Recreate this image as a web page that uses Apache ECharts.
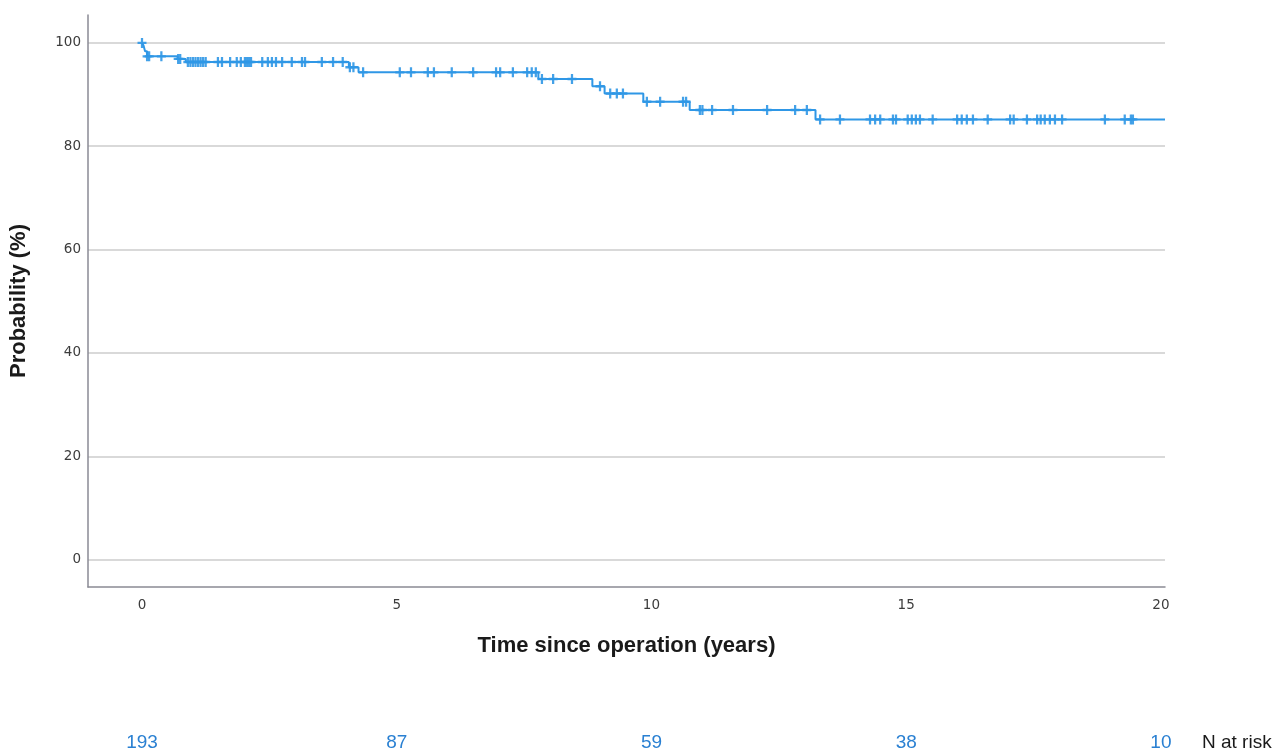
<!DOCTYPE html>
<html>
<head>
<meta charset="utf-8">
<title>Survival after operation</title>
<script src="https://cdn.jsdelivr.net/npm/echarts@6/dist/echarts.min.js"></script>
<style>
  html, body { margin: 0; padding: 0; background: #ffffff; }
  #chart { width: 1287px; height: 753px; }
</style>
</head>
<body>
<div id="chart"></div>
<script>
// Kaplan–Meier estimate: from stepTimes[i] on, survival is stepSurvival[i] (%)
const stepTimes = [0, 0.03, 0.06, 0.10, 0.70, 0.86, 4.06, 4.25, 7.78, 8.84, 9.08, 9.84, 10.75, 13.22, 20.08];
const stepSurvival = [100, 99.5, 98.4, 97.4, 96.9, 96.3, 95.3, 94.3, 93.0, 91.6, 90.2, 88.6, 87.0, 85.2, 85.2];

// Censored follow-up times (years)
const censorTimes = [
  0, 0.10, 0.14, 0.38, 0.71, 0.75,
  0.90, 0.95, 1.00, 1.05, 1.10, 1.15, 1.20, 1.25,
  1.49, 1.57, 1.73, 1.86, 1.94, 2.02, 2.06, 2.10, 2.14,
  2.36, 2.47, 2.55, 2.63, 2.75, 2.94, 3.14, 3.20, 3.53, 3.75, 3.94,
  4.08, 4.15, 4.34,
  5.06, 5.28, 5.61, 5.73, 6.08, 6.50, 6.95, 7.03, 7.28, 7.56, 7.65, 7.73,
  7.85, 8.07, 8.44,
  8.99,
  9.19, 9.32, 9.44,
  9.91, 10.17, 10.62, 10.68,
  10.95, 11.00, 11.19, 11.60, 12.27, 12.82, 13.05,
  13.31, 13.70, 14.29, 14.39, 14.49, 14.74, 14.80, 15.03, 15.11, 15.19, 15.27,
  15.52, 16.00, 16.09, 16.19, 16.31, 16.60, 17.04, 17.11, 17.37,
  17.57, 17.64, 17.72, 17.82, 17.92, 18.06, 18.90, 19.29, 19.41, 19.45
];

// Axis ticks and numbers at risk
const xTicks = [0, 5, 10, 15, 20];
const yTicks = [0, 20, 40, 60, 80, 100];
const atRisk = [193, 87, 59, 38, 10];

function survivalAt(t) {
  let s = stepSurvival[0];
  for (let i = 0; i < stepTimes.length; i++) {
    if (stepTimes[i] <= t) s = stepSurvival[i];
  }
  return s;
}

const curveData = stepTimes.map((t, i) => [t, stepSurvival[i]]);
const censorData = censorTimes.map(t => [t, survivalAt(t)]);

const BLUE = '#2f97e6';
const tickFont = { fontFamily: 'DejaVu Sans', fontSize: 13.5, color: '#3c3c3c' };

const chart = echarts.init(document.getElementById('chart'), null, { renderer: 'canvas' });

chart.setOption({
  animation: false,
  backgroundColor: '#ffffff',
  grid: { left: 88, right: 122, top: 15, bottom: 166, containLabel: false },
  xAxis: [
    {
      type: 'value',
      min: -1.06,
      max: 20.08,
      position: 'bottom',
      name: 'Time since operation (years)',
      nameLocation: 'middle',
      nameGap: 48,
      nameTextStyle: { fontFamily: 'Liberation Sans', fontWeight: 'bold', fontSize: 22, color: '#1a1a1a' },
      axisLine: { show: true, onZero: false, lineStyle: { color: '#8a8a94', width: 1.5 } },
      axisTick: { show: false, customValues: xTicks },
      axisLabel: Object.assign({ customValues: xTicks, margin: 11 }, tickFont),
      splitLine: { show: false }
    },
    {
      type: 'value',
      min: -1.06,
      max: 20.08,
      position: 'bottom',
      offset: 156,
      name: 'N at risk',
      nameLocation: 'end',
      nameGap: 37,
      nameTextStyle: { fontFamily: 'Liberation Sans', fontSize: 19, color: '#1a1a1a', align: 'left', verticalAlign: 'middle' },
      axisLine: { show: false, onZero: false },
      axisTick: { show: false, customValues: xTicks },
      axisLabel: {
        customValues: xTicks,
        margin: 0,
        verticalAlign: 'middle',
        fontFamily: 'Liberation Sans',
        fontSize: 19,
        color: '#2a80d2',
        formatter: v => {
          const i = xTicks.indexOf(v);
          return i >= 0 ? String(atRisk[i]) : '';
        }
      },
      splitLine: { show: false }
    }
  ],
  yAxis: {
    type: 'value',
    min: -5.3,
    max: 105.4,
    name: 'Probability (%)',
    nameLocation: 'middle',
    nameGap: 58,
    nameTextStyle: { fontFamily: 'Liberation Sans', fontWeight: 'bold', fontSize: 22, color: '#1a1a1a' },
    axisLine: { show: true, onZero: false, lineStyle: { color: '#8a8a94', width: 1.5 } },
    axisTick: { show: false, customValues: yTicks },
    axisLabel: Object.assign({ customValues: yTicks, margin: 7 }, tickFont),
    splitLine: { show: true, lineStyle: { color: '#cdcdcd', width: 1.5 } }
  },
  series: [
    {
      name: 'Survival',
      type: 'line',
      step: 'end',
      data: curveData,
      symbol: 'none',
      lineStyle: { color: BLUE, width: 2 },
      z: 3
    },
    {
      name: 'Censored',
      type: 'scatter',
      data: censorData,
      symbol: 'path://M3.6,0h2.4v10h-2.4z M0,3.8h9.6v2.4h-9.6z',
      symbolSize: [9, 10],
      itemStyle: { color: BLUE, opacity: 0.9 },
      z: 4
    }
  ]
});
</script>
</body>
</html>
